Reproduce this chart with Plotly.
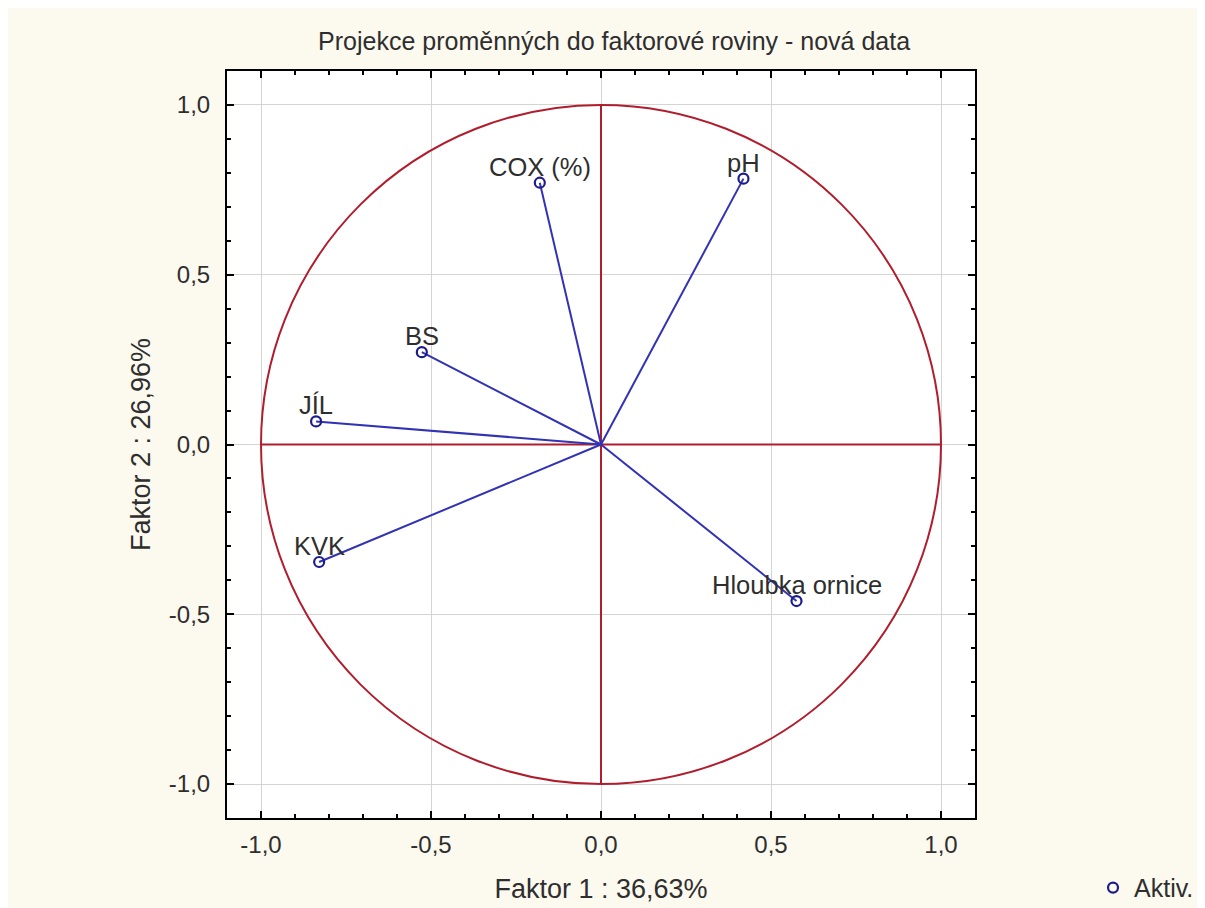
import plotly.graph_objects as go

variables = ["COX (%)", "pH", "BS", "JÍL", "KVK", "Hloubka ornice"]
factor1 = [-0.18, 0.419, -0.527, -0.838, -0.829, 0.575]
factor2 = [0.771, 0.783, 0.272, 0.068, -0.346, -0.461]

title_text = "Projekce proměnných do faktorové roviny - nová data"
x_title = "Faktor 1 : 36,63%"
y_title = "Faktor 2 : 26,96%"
tick_vals = [-1.0, -0.5, 0.0, 0.5, 1.0]
tick_text = ["-1,0", "-0,5", "0,0", "0,5", "1,0"]
legend_name = "Aktiv."

RED = "#B01E2E"
BLUE = "#3232B4"
NAVY = "#1C1C8C"
TXT = "#2e2e2e"
FONT = "Liberation Sans, Arial, sans-serif"

fig = go.Figure()

# red cross through origin (unit length)
fig.add_trace(go.Scatter(x=[-1, 1], y=[0, 0], mode="lines", line=dict(color=RED, width=2),
                         showlegend=False, hoverinfo="skip"))
fig.add_trace(go.Scatter(x=[0, 0], y=[-1, 1], mode="lines", line=dict(color=RED, width=2),
                         showlegend=False, hoverinfo="skip"))

# vectors from origin
for xv, yv in zip(factor1, factor2):
    fig.add_trace(go.Scatter(x=[0, xv], y=[0, yv], mode="lines",
                             line=dict(color=BLUE, width=2), showlegend=False,
                             hoverinfo="skip"))

fig.add_trace(go.Scatter(
    x=factor1, y=factor2, mode="markers",
    marker=dict(symbol="circle-open", size=10, color=NAVY, line=dict(width=2.2, color=NAVY)),
    name=legend_name, showlegend=True))

# variable labels just above each point
for name, xv, yv in zip(variables, factor1, factor2):
    fig.add_annotation(x=xv, y=yv, xref="x", yref="y", text=name, showarrow=False,
                       xanchor="center", yanchor="middle", yshift=16,
                       font=dict(size=25.5, color=TXT, family=FONT))

# unit circle
fig.add_shape(type="circle", xref="x", yref="y", x0=-1, y0=-1, x1=1, y1=1,
              line=dict(color=RED, width=2), layer="between")

axis_common = dict(
    range=[-1.1, 1.1], tickvals=tick_vals, ticktext=tick_text,
    showgrid=True, gridcolor="#D4D4D4", gridwidth=1, zeroline=False,
    showline=True, linecolor="black", linewidth=2, mirror="allticks",
    ticks="inside", ticklen=7, tickcolor="black", tickwidth=1.5,
    minor=dict(dtick=0.1, ticks="inside", ticklen=4, tickcolor="black", showgrid=False),
    tickfont=dict(size=24, color=TXT, family=FONT),
)

fig.update_xaxes(**axis_common, ticklabelstandoff=4,
                 title=dict(text=x_title, font=dict(size=27, color=TXT, family=FONT), standoff=22))
fig.update_yaxes(**axis_common, ticklabelstandoff=10,
                 title=dict(text=y_title, font=dict(size=27, color=TXT, family=FONT), standoff=10))

fig.update_layout(
    width=1205, height=908,
    margin=dict(l=219, r=238, t=63, b=98, autoexpand=False),
    paper_bgcolor="#FCF9EF", plot_bgcolor="white",
    title=dict(text=title_text, x=0.503, xanchor="center", y=1 - 33 / 908, yanchor="middle",
               font=dict(size=25, color=TXT, family=FONT)),
    legend=dict(xref="container", yref="container", x=0.8996, y=0.031,
                xanchor="left", yanchor="middle",
                bgcolor="rgba(0,0,0,0)", font=dict(size=25, color=TXT, family=FONT),
                itemwidth=32),
    font=dict(family=FONT),
)

fig.write_html("out.html")
